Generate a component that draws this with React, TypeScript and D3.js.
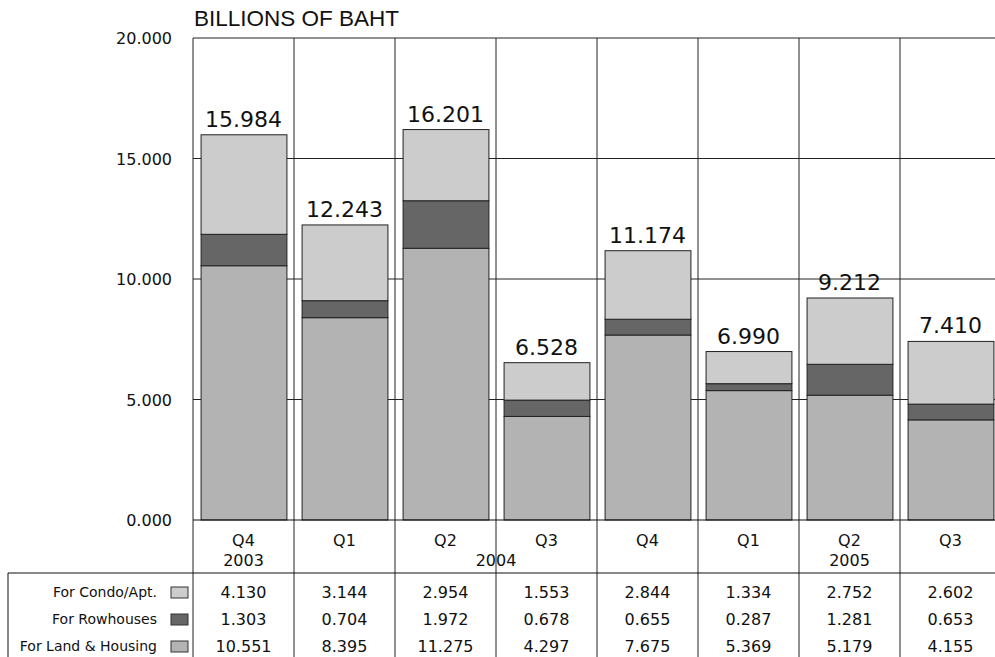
import React from "react";
import * as d3 from "d3";

const quarters = ["Q4", "Q1", "Q2", "Q3", "Q4", "Q1", "Q2", "Q3"];
const years = ["2003", "2004", "2004", "2004", "2004", "2005", "2005", "2005"];
const landHousing = [10.551, 8.395, 11.275, 4.297, 7.675, 5.369, 5.179, 4.155];
const rowhouses = [1.303, 0.704, 1.972, 0.678, 0.655, 0.287, 1.281, 0.653];
const condo = [4.13, 3.144, 2.954, 1.553, 2.844, 1.334, 2.752, 2.602];
const totals = [15.984, 12.243, 16.201, 6.528, 11.174, 6.99, 9.212, 7.41];
const yTicks = [0, 5, 10, 15, 20];
const seriesNames = ["For Condo/Apt.", "For Rowhouses", "For Land & Housing"];
const seriesColors = ["#cccccc", "#666666", "#b3b3b3"];

const W = 995;
const H = 657;
const NUM = "'DejaVu Sans', sans-serif";

export default function App() {
  const idx = quarters.map((_, i) => i);
  const x = d3.scaleBand<number>().domain(idx).range([193, 1001]).paddingInner(0).paddingOuter(0);
  const y = d3.scaleLinear().domain([0, 20]).range([520, 38]);
  const bw = x.bandwidth();
  const barW = bw * 0.85;
  const barOff = (bw - barW) / 2 + 0.5;

  const rows = idx.map((i) => ({ land: landHousing[i], row: rowhouses[i], condo: condo[i] }));
  const stack = d3.stack<any>().keys(["land", "row", "condo"])(rows);
  const keyColor: Record<string, string> = { land: seriesColors[2], row: seriesColors[1], condo: seriesColors[0] };

  const yearGroups = d3.groups(idx, (i) => years[i]);
  const tableRows = [condo, rowhouses, landHousing];
  const rowY = [592, 619, 646];

  const fmt = d3.format(".3f");

  return (
    <svg width={W} height={H} style={{ position: "absolute", left: 0, top: 0, background: "#fff" }}>
      <text x={194} y={26} fontFamily="'Liberation Sans', Arial, sans-serif" fontSize={22.5} fill="#111">
        BILLIONS OF BAHT
      </text>
      {yTicks.filter((t) => t > 0).map((t) => (
        <line key={t} x1={193} x2={W} y1={y(t)} y2={y(t)} stroke="#222" strokeWidth={1} />
      ))}
      {idx.map((i) => (
        <line key={i} x1={x(i)!} x2={x(i)!} y1={38} y2={H} stroke="#222" strokeWidth={1} />
      ))}
      {yTicks.map((t) => (
        <text key={t} x={172} y={y(t) + 6} textAnchor="end" fontFamily={NUM} fontSize={16} fill="#111">
          {fmt(t)}
        </text>
      ))}
      {stack.map((s) =>
        s.map((d, i) => (
          <rect
            key={s.key + i}
            x={x(i)! + barOff}
            y={y(d[1])}
            width={barW}
            height={y(d[0]) - y(d[1])}
            fill={keyColor[s.key]}
            stroke="#222"
            strokeWidth={1}
          />
        ))
      )}
      {idx.map((i) => (
        <text key={i} x={x(i)! + bw / 2} y={y(totals[i]) - 8} textAnchor="middle" fontFamily={NUM} fontSize={22} fill="#111">
          {fmt(totals[i])}
        </text>
      ))}
      <line x1={193} x2={W} y1={520} y2={520} stroke="#111" strokeWidth={1.2} />
      <line x1={8} x2={W} y1={573} y2={573} stroke="#111" strokeWidth={1} />
      <line x1={8} x2={8} y1={573} y2={H} stroke="#111" strokeWidth={1} />
      {idx.map((i) => (
        <text key={i} x={x(i)! + bw / 2} y={546} textAnchor="middle" fontFamily={NUM} fontSize={16} fill="#111">
          {quarters[i]}
        </text>
      ))}
      {yearGroups.map(([yr, list]) => {
        const cx = (x(list[0])! + x(list[list.length - 1])! + bw) / 2;
        return (
          <text key={yr} x={cx} y={566} textAnchor="middle" fontFamily={NUM} fontSize={16} fill="#111">
            {yr}
          </text>
        );
      })}
      {tableRows.map((vals, r) => (
        <g key={r}>
          <text x={157} y={rowY[r] + 5} textAnchor="end" fontFamily={NUM} fontSize={14} fill="#111">
            {seriesNames[r]}
          </text>
          <rect x={171} y={rowY[r] - 5} width={17} height={11} fill={seriesColors[r]} stroke="#333" strokeWidth={1} />
          {vals.map((v, i) => (
            <text key={i} x={x(i)! + bw / 2} y={rowY[r] + 6} textAnchor="middle" fontFamily={NUM} fontSize={16} fill="#111">
              {fmt(v)}
            </text>
          ))}
        </g>
      ))}
    </svg>
  );
}
